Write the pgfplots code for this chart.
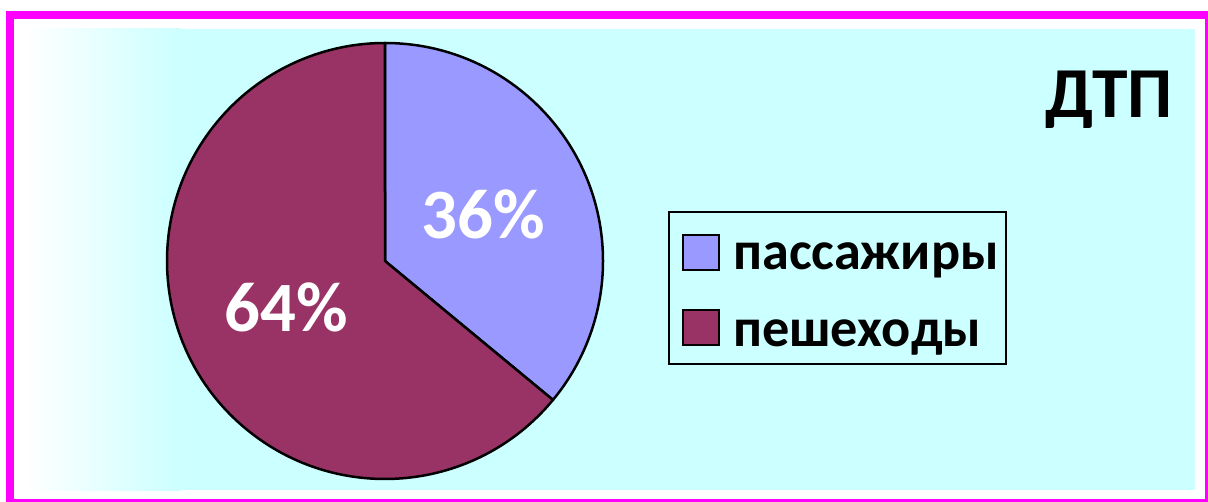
\documentclass[border=0pt]{standalone}
\usepackage{pgfplots}
\usepackage{pgfplotstable}
\usepackage{fontspec}
\setmainfont{Carlito}
\pgfplotsset{compat=1.18}
\definecolor{frame}{HTML}{FF00FF}
\definecolor{bg}{HTML}{CCFFFF}
\definecolor{pas}{HTML}{9999FF}
\definecolor{ped}{HTML}{993366}
\pgfplotstableread{
slice value
1 36
2 64
}\piedata
\begin{document}
\begin{tikzpicture}
\useasboundingbox (0,0) rectangle (1208bp,502bp);
\pgfplotstablegetelem{0}{value}\of\piedata \let\va\pgfplotsretval
\pgfplotstablegetelem{1}{value}\of\piedata \let\vb\pgfplotsretval
\pgfmathsetmacro\tot{\va+\vb}
\pgfmathsetmacro\fa{\va/\tot}
\pgfmathsetmacro\fb{\vb/\tot}
\pgfmathsetmacro\angA{90-360*\fa}
\pgfmathsetmacro\angB{\angA-360*\fb}
\pgfmathsetmacro\midA{(90+\angA)/2}
\pgfmathsetmacro\midB{(\angA+\angB)/2}
\pgfmathsetmacro\cx{385}
\pgfmathsetmacro\cy{241}
\pgfmathsetmacro\R{218}
\pgfmathsetmacro\xA{\cx+0.5*\R*cos(\midA)}
\pgfmathsetmacro\yA{\cy+0.5*\R*sin(\midA)}
\pgfmathsetmacro\xB{\cx+0.5*\R*cos(\midB)}
\pgfmathsetmacro\yB{\cy+0.5*\R*sin(\midB)}
\pgfmathtruncatemacro\pa{round(100*\fa)}
\pgfmathtruncatemacro\pb{round(100*\fb)}
\begin{axis}[scale only axis, width=1208bp, height=502bp, at={(0,0)}, anchor=origin,
  xmin=0, xmax=1208, ymin=0, ymax=502, hide axis, clip=false]
% frame
\fill[frame] (axis cs:6,0) rectangle (axis cs:1208,491);
\fill[white] (axis cs:14,3) rectangle (axis cs:1205,483);
% background
\fill[bg] (axis cs:180,12) rectangle (axis cs:1195,473);
\shade[left color=white, right color=bg] (axis cs:23,12) rectangle (axis cs:180.5,473);
% pie
\filldraw[fill=pas, draw=black, line width=2.5bp, line join=round]
  (axis cs:\cx,\cy) -- ++(90:\R bp) arc[start angle=90, end angle=\angA, radius=\R bp] -- cycle;
\filldraw[fill=ped, draw=black, line width=2.5bp, line join=round]
  (axis cs:\cx,\cy) -- ++(\angA:\R bp) arc[start angle=\angA, end angle=\angB, radius=\R bp] -- cycle;
\node[white, font=\bfseries\fontsize{71}{71}\selectfont, inner sep=0pt] at (axis cs:\xA,\yA) {\pa\%};
\node[white, font=\bfseries\fontsize{71}{71}\selectfont, inner sep=0pt] at (axis cs:\xB,\yB) {\pb\%};
% title
\node[anchor=base west, inner sep=0pt, font=\bfseries\fontsize{72}{72}\selectfont] at (axis cs:1045,384) {ДТП};
% legend
\draw[black, line width=2bp, fill=bg] (axis cs:669,138) rectangle (axis cs:1006,290);
\filldraw[fill=pas, draw=black, line width=1.5bp] (axis cs:683,232) rectangle (axis cs:719,267);
\filldraw[fill=ped, draw=black, line width=1.5bp] (axis cs:683,157) rectangle (axis cs:719,192);
\node[anchor=base west, inner sep=0pt, font=\bfseries\fontsize{54.5}{54.5}\selectfont] at (axis cs:733,232) {пассажиры};
\node[anchor=base west, inner sep=0pt, font=\bfseries\fontsize{54.5}{54.5}\selectfont] at (axis cs:733,155) {пешеходы};
\end{axis}
\end{tikzpicture}
\end{document}
